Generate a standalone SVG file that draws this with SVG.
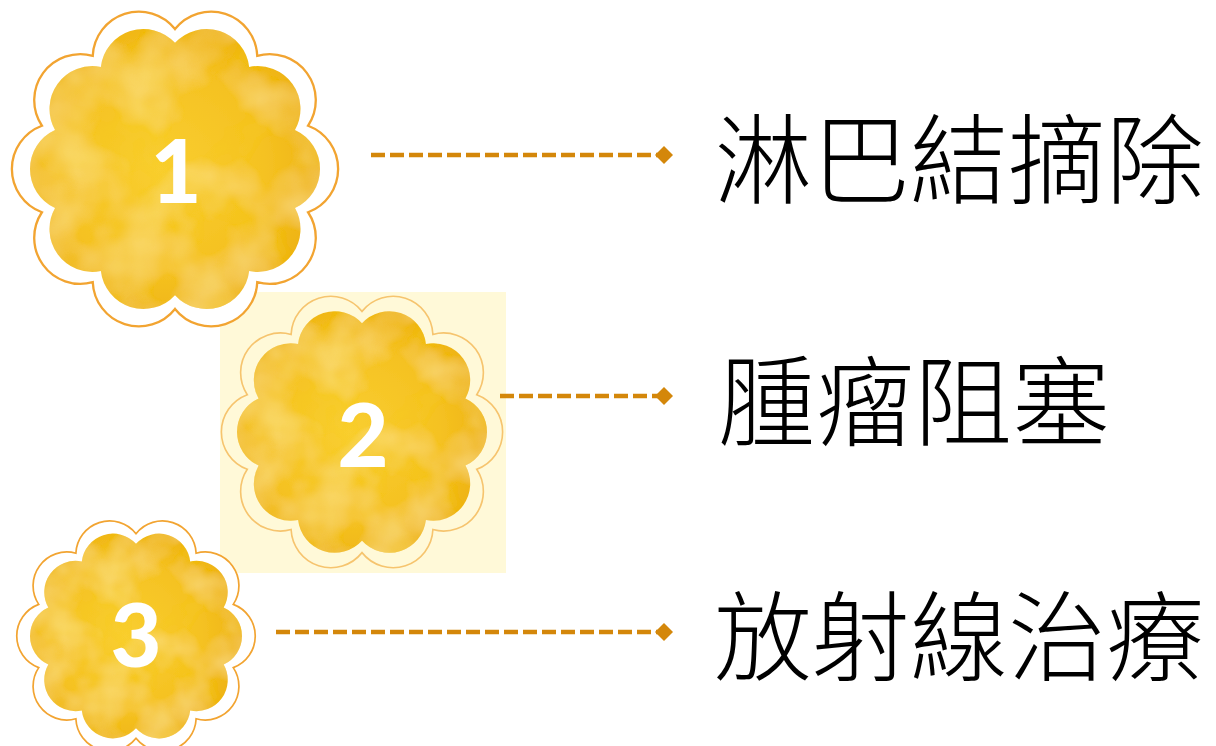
<svg xmlns="http://www.w3.org/2000/svg" width="1216" height="746" viewBox="0 0 1216 746">
<style>
.petal{fill:url(#gold);filter:url(#wc)}
.ring{fill:#ffffff;stroke:#F2A431;stroke-width:1.6;vector-effect:non-scaling-stroke}
.ring2{fill:none;stroke:#F6C46E;stroke-width:1.3;vector-effect:non-scaling-stroke}
.num{font-family:Lato,"Open Sans","DejaVu Sans",sans-serif;font-weight:900;font-size:88px;fill:#ffffff;text-anchor:middle}
.lbl{font-family:"Noto Sans CJK TC","Noto Sans CJK SC",sans-serif;font-weight:300;font-size:98px;fill:#000000}
.conn{stroke:#D4870A;stroke-width:4.5;stroke-dasharray:14 5;fill:none;marker-end:url(#dia)}
</style>
<defs>
<radialGradient id="gold" cx="0.45" cy="0.5" r="0.6">
<stop offset="0" stop-color="#F9CE30"/>
<stop offset="0.6" stop-color="#F5C222"/>
<stop offset="1" stop-color="#EDB010"/>
</radialGradient>
<filter id="wc" x="-10%" y="-10%" width="120%" height="120%">
<feTurbulence type="fractalNoise" baseFrequency="0.022" numOctaves="3" seed="7" result="n"/>
<feColorMatrix in="n" type="matrix" values="0 0 0 0 1  0 0 0 0 0.86  0 0 0 0 0.32  1.0 0 0 0 -0.42" result="lt"/>
<feColorMatrix in="n" type="matrix" values="0 0 0 0 0.92  0 0 0 0 0.64  0 0 0 0 0.02  0 -1.0 0 0 0.5" result="dk"/>
<feComposite in="lt" in2="SourceGraphic" operator="in" result="lt2"/>
<feComposite in="dk" in2="SourceGraphic" operator="in" result="dk2"/>
<feMerge><feMergeNode in="SourceGraphic"/><feMergeNode in="dk2"/><feMergeNode in="lt2"/></feMerge>
</filter>
<path id="fl" d="M0,-87 A29.56,29.56 0 0 1 51.14,-70.38 A29.56,29.56 0 0 1 82.74,-26.88 A29.56,29.56 0 0 1 82.74,26.88 A29.56,29.56 0 0 1 51.14,70.38 A29.56,29.56 0 0 1 0,87 A29.56,29.56 0 0 1 -51.14,70.38 A29.56,29.56 0 0 1 -82.74,26.88 A29.56,29.56 0 0 1 -82.74,-26.88 A29.56,29.56 0 0 1 -51.14,-70.38 A29.56,29.56 0 0 1 0,-87 Z"/>
<path id="ol" d="M0,-96.5 A31.82,31.82 0 0 1 56.72,-78.07 A31.82,31.82 0 0 1 91.78,-29.82 A31.82,31.82 0 0 1 91.78,29.82 A31.82,31.82 0 0 1 56.72,78.07 A31.82,31.82 0 0 1 0,96.5 A31.82,31.82 0 0 1 -56.72,78.07 A31.82,31.82 0 0 1 -91.78,29.82 A31.82,31.82 0 0 1 -91.78,-29.82 A31.82,31.82 0 0 1 -56.72,-78.07 A31.82,31.82 0 0 1 0,-96.5 Z"/>
<marker id="dia" markerUnits="userSpaceOnUse" markerWidth="20" markerHeight="20" viewBox="-10 -10 20 20" refX="0" refY="0" orient="auto">
<path d="M0,-9 L9,0 L0,9 L-9,0 Z" fill="#D4870A"/>
</marker>
</defs>
<rect width="1216" height="746" fill="#ffffff"/>
<g id="node2">
<rect x="220" y="292" width="286" height="281" fill="#FFF9D8"/>
<g transform="translate(362,432) scale(1.25)">
<use href="#ol" class="ring2"/>
<use href="#fl" class="petal"/>
</g>
<text class="num" x="363" y="467">2</text>
</g>
<g id="node1">
<g transform="translate(175,169) scale(1.45)">
<use href="#ol" class="ring"/>
<use href="#fl" class="petal"/>
</g>
<text class="num" x="176" y="203">1</text>
</g>
<g id="node3">
<g transform="translate(136,636) scale(1.06)">
<use href="#ol" class="ring"/>
<use href="#fl" class="petal"/>
</g>
<text class="num" x="136" y="667">3</text>
</g>
<g id="connectors">
<line class="conn" x1="371" y1="155" x2="664" y2="155"/>
<line class="conn" x1="500" y1="396" x2="664" y2="396"/>
<line class="conn" x1="276" y1="632" x2="664" y2="632"/>
</g>
<g id="labels">
<text class="lbl" x="714" y="196">淋巴結摘除</text>
<text class="lbl" x="718" y="438">腫瘤阻塞</text>
<text class="lbl" x="714" y="673">放射線治療</text>
</g>
</svg>
